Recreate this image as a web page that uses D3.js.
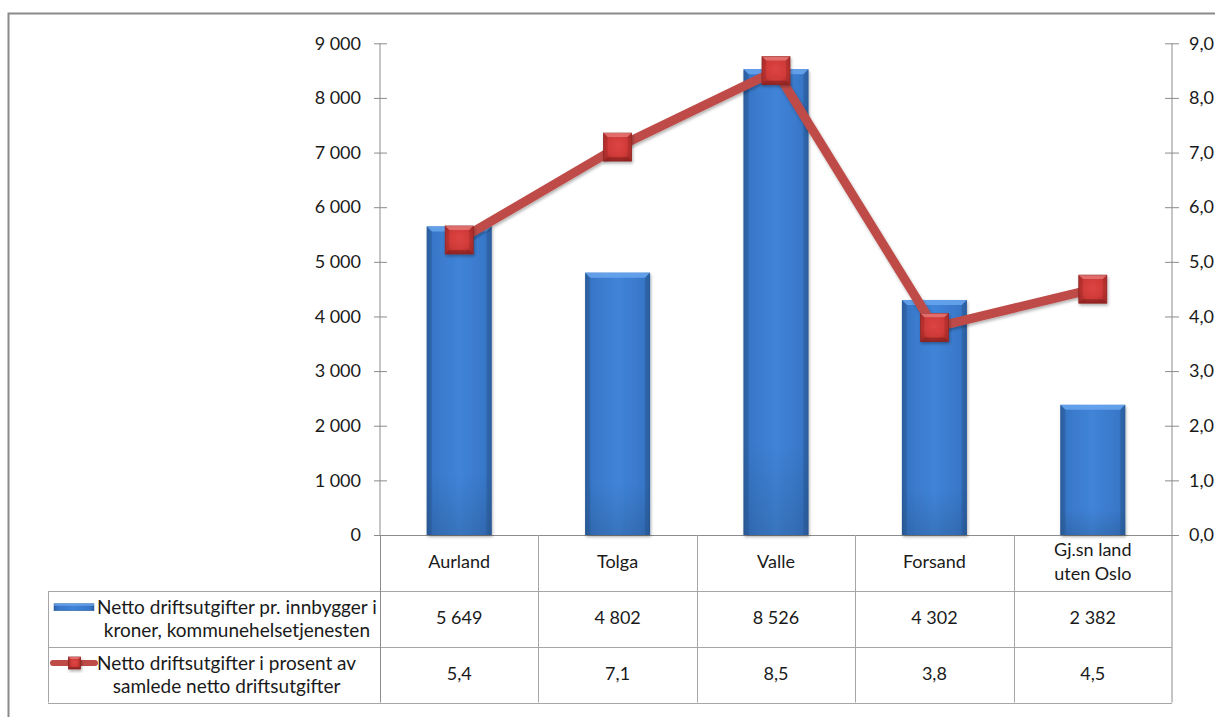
<!DOCTYPE html>
<html><head><meta charset="utf-8">
<script src="https://cdn.jsdelivr.net/npm/d3@7"></script>
<style>
html,body{margin:0;padding:0;background:#fff;}
svg{display:block;}
text{font-family:Lato,"Open Sans",sans-serif;fill:#1a1a1a;}
</style></head>
<body>
<svg id="c" width="1215" height="717"></svg>
<script>
const categories = ["Aurland","Tolga","Valle","Forsand","Gj.sn land\nuten Oslo"];
const barValues = [5649,4802,8526,4302,2382];
const lineValues = [5.4,7.1,8.5,3.8,4.5];
const leftTicks = [0,1000,2000,3000,4000,5000,6000,7000,8000,9000];
const rightTicks = [0,1,2,3,4,5,6,7,8,9];
const barLabels = ["5 649","4 802","8 526","4 302","2 382"];
const lineLabels = ["5,4","7,1","8,5","3,8","4,5"];
const seriesNames = [
  ["Netto driftsutgifter pr. innbygger i","kroner, kommunehelsetjenesten"],
  ["Netto driftsutgifter i prosent av","samlede netto driftsutgifter"]
];

const svg = d3.select("#c");
const FS = 18, LFS = 19;
const plotL = 380, plotR = 1172, plotT = 43.3, plotB = 535;
const rowB = [591, 646.5, 702.5];
const tableL = 48;

const defs = svg.append("defs");
const bg = defs.append("linearGradient").attr("id","barG").attr("x1",0).attr("x2",1).attr("y1",0).attr("y2",0);
[[0,"#2b5f9f"],[0.1,"#3877c8"],[0.5,"#4084d8"],[0.9,"#3877c8"],[1,"#2b5f9f"]].forEach(s=>bg.append("stop").attr("offset",s[0]).attr("stop-color",s[1]));
const bv = defs.append("linearGradient").attr("id","barV").attr("x1",0).attr("x2",0).attr("y1",0).attr("y2",1);
[[0,"#ffffff",0],[0.8,"#000000",0],[1,"#000000",0.12]].forEach(s=>bv.append("stop").attr("offset",s[0]).attr("stop-color",s[1]).attr("stop-opacity",s[2]));
const mg = defs.append("radialGradient").attr("id","mkG").attr("cx","50%").attr("cy","45%").attr("r","65%");
[[0,"#dd4442"],[0.6,"#cf3a38"],[1,"#a62c2a"]].forEach(s=>mg.append("stop").attr("offset",s[0]).attr("stop-color",s[1]));
const sh = defs.append("filter").attr("id","sh").attr("x","-30%").attr("y","-30%").attr("width","160%").attr("height","160%");
sh.append("feDropShadow").attr("dx",1).attr("dy",2).attr("stdDeviation",1.5).attr("flood-color","#000").attr("flood-opacity",0.3);

// outer border
svg.append("path").attr("d","M8.5,730 V13.5 H1230").attr("fill","none").attr("stroke","#8a8a8a").attr("stroke-width",2);

const x = d3.scaleBand().domain(d3.range(categories.length)).range([plotL,plotR]).paddingInner(0).paddingOuter(0);
const yL = d3.scaleLinear().domain([0,9000]).range([plotB,plotT]);
const yR = d3.scaleLinear().domain([0,9]).range([plotB,plotT]);
const fmtL = d => d3.format(",")(d).replace(/,/g," ");
const fmtR = d => d3.format(".1f")(d).replace(".",",");

// axes
const axL = svg.append("g").attr("transform",`translate(${plotL},0)`).call(d3.axisLeft(yL).tickValues(leftTicks).tickFormat(fmtL).tickSize(6).tickPadding(13));
const axR = svg.append("g").attr("transform",`translate(${plotR},0)`).call(d3.axisRight(yR).tickValues(rightTicks).tickFormat(fmtR).tickSize(7).tickPadding(10));
[axL,axR].forEach(a=>{
  a.selectAll(".tick line").attr("stroke","#8c8c8c");
  a.selectAll(".tick text").style("font-size",FS+"px").attr("fill","#1a1a1a").style("font-family","Lato");
});
axL.selectAll(".tick line").attr("x1",7);
axR.selectAll(".tick line").attr("x1",-7);
axL.select(".domain").attr("stroke","#8c8c8c").attr("d",`M0,${plotB}V${plotT}`);
axR.select(".domain").attr("stroke","#8c8c8c").attr("d",`M0,${rowB[2]}V${plotT}`);

// table lines
const tg = svg.append("g").attr("stroke","#a6a6a6").attr("stroke-width",1).attr("fill","none");
tg.append("line").attr("x1",374).attr("x2",plotR+7).attr("y1",plotB+0.5).attr("y2",plotB+0.5).attr("stroke","#8c8c8c");
rowB.forEach(yv=>tg.append("line").attr("x1",tableL).attr("x2",plotR).attr("y1",Math.round(yv)+0.5).attr("y2",Math.round(yv)+0.5));
tg.append("line").attr("x1",tableL+0.5).attr("x2",tableL+0.5).attr("y1",rowB[0]).attr("y2",rowB[2]);
tg.append("line").attr("x1",plotL+0.5).attr("x2",plotL+0.5).attr("y1",plotB).attr("y2",rowB[2]).attr("stroke","#8c8c8c");
d3.range(1,categories.length).forEach(i=>tg.append("line").attr("x1",Math.round(x(i))+0.5).attr("x2",Math.round(x(i))+0.5).attr("y1",plotB).attr("y2",rowB[2]));

// bars
const bw = x.bandwidth()*0.41;
const bars = svg.append("g").selectAll("g").data(barValues).join("g");
bars.append("rect").attr("x",(d,i)=>x(i)+x.bandwidth()/2-bw/2).attr("y",d=>yL(d)).attr("width",bw).attr("height",d=>yL(0)-yL(d)).attr("fill","url(#barG)").attr("filter","url(#sh)");
bars.append("rect").attr("x",(d,i)=>x(i)+x.bandwidth()/2-bw/2).attr("y",d=>yL(d)).attr("width",bw).attr("height",d=>yL(0)-yL(d)).attr("fill","url(#barV)");
bars.append("path").attr("d",(d,i)=>{const x0=x(i)+x.bandwidth()/2-bw/2,x1=x0+bw,y0=yL(d);return `M${x0},${y0}H${x1}L${x1-5},${y0+5}H${x0+5}Z`;}).attr("fill","#6aa6ee").attr("opacity",0.85);
bars.append("path").attr("d",(d,i)=>{const x0=x(i)+x.bandwidth()/2-bw/2,x1=x0+bw,y0=yL(d),y1=yL(0);return `M${x0},${y0}L${x0+5},${y0+5}V${y1}H${x0}Z M${x1},${y0}L${x1-5},${y0+5}V${y1}H${x1}Z`;}).attr("fill","#2a5b98").attr("opacity",0.45);

// line
const line = d3.line().x((d,i)=>x(i)+x.bandwidth()/2).y(d=>yR(d));
svg.append("path").datum(lineValues).attr("d",line).attr("fill","none").attr("stroke","#bf4b48").attr("stroke-width",9).attr("stroke-linejoin","round").attr("filter","url(#sh)");

// markers
const ms = 28;
function marker(g, cx, cy, s){
  const h=s/2, b=Math.max(2,s*0.14);
  g.append("rect").attr("x",cx-h).attr("y",cy-h).attr("width",s).attr("height",s).attr("fill","url(#mkG)").attr("stroke","#8e2624").attr("stroke-width",0.8).attr("filter","url(#sh)");
  g.append("path").attr("d",`M${cx-h},${cy-h}H${cx+h}L${cx+h-b},${cy-h+b}H${cx-h+b}Z`).attr("fill","#e77a78").attr("opacity",0.8);
  g.append("path").attr("d",`M${cx-h},${cy+h}H${cx+h}L${cx+h-b},${cy+h-b}H${cx-h+b}Z`).attr("fill","#7e1e1c").attr("opacity",0.55);
  g.append("path").attr("d",`M${cx-h},${cy-h}V${cy+h}L${cx-h+b},${cy+h-b}V${cy-h+b}Z M${cx+h},${cy-h}V${cy+h}L${cx+h-b},${cy+h-b}V${cy-h+b}Z`).attr("fill","#a32a28").attr("opacity",0.5);
}
const mk = svg.append("g");
lineValues.forEach((d,i)=>marker(mk, x(i)+x.bandwidth()/2, yR(d), ms));

// table text
const tt = svg.append("g").style("font-size",FS+"px").attr("text-anchor","middle");
categories.forEach((c,i)=>{
  const lines = c.split("\n");
  const cy = (plotB+rowB[0])/2 - 1;
  lines.forEach((l,j)=>tt.append("text").attr("x",x(i)+x.bandwidth()/2).attr("y",cy+(j-(lines.length-1)/2)*24).attr("dy","0.35em").text(l));
});
barLabels.forEach((l,i)=>tt.append("text").attr("x",x(i)+x.bandwidth()/2).attr("y",(rowB[0]+rowB[1])/2-1).attr("dy","0.35em").text(l));
lineLabels.forEach((l,i)=>tt.append("text").attr("x",x(i)+x.bandwidth()/2).attr("y",(rowB[1]+rowB[2])/2-1).attr("dy","0.35em").text(l));

// legend cells
const lg = svg.append("g").style("font-size",LFS+"px");
seriesNames.forEach((names,r)=>{
  const top = rowB[r], bot = rowB[r+1], cy=(top+bot)/2;
  const t1 = lg.append("text").attr("x",97).attr("y",cy-11.5).attr("dy","0.35em").text(names[0]);
  const w1 = t1.node().getComputedTextLength();
  lg.append("text").attr("x",97+w1/2).attr("y",cy+11.5).attr("dy","0.35em").attr("text-anchor","middle").text(names[1]);
  const iy = cy-11.5;
  if(r===0){
    lg.append("rect").attr("x",54).attr("y",iy-3.5).attr("width",40).attr("height",7).attr("fill","url(#barG)").attr("stroke","#2b5f9f").attr("stroke-width",0.5);
    lg.append("rect").attr("x",54).attr("y",iy-3.5).attr("width",40).attr("height",2).attr("fill","#6aa6ee").attr("opacity",0.8);
  } else {
    lg.append("line").attr("x1",53).attr("x2",95).attr("y1",iy).attr("y2",iy).attr("stroke","#bf4b48").attr("stroke-width",6).attr("stroke-linecap","round");
    marker(lg, 74.5, iy, 12);
  }
});
</script>
</body></html>
